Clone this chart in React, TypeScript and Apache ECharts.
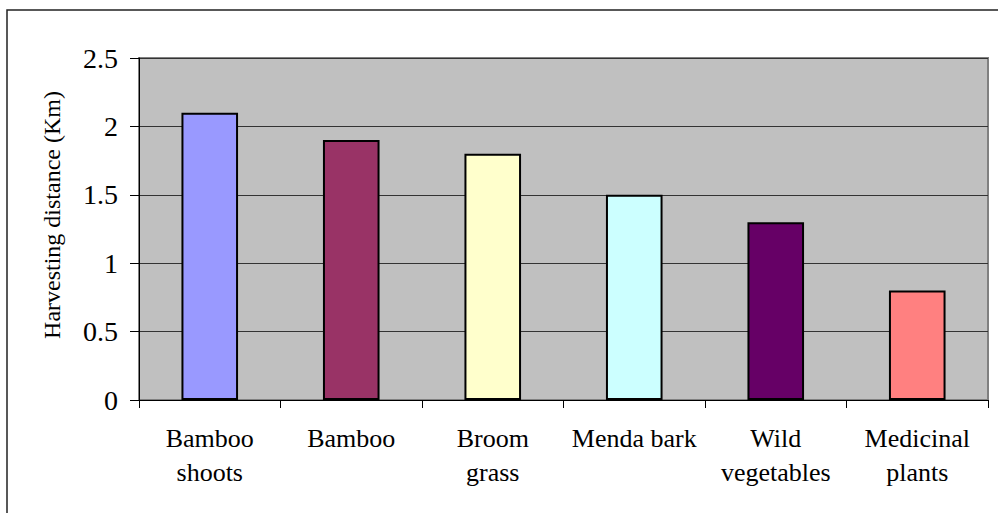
import React, { useEffect, useRef } from "react";
import * as echarts from "echarts";

const categories = [
  "Bamboo\nshoots",
  "Bamboo",
  "Broom\ngrass",
  "Menda bark",
  "Wild\nvegetables",
  "Medicinal\nplants",
];
const distances = [2.1, 1.9, 1.8, 1.5, 1.3, 0.8];
const barColors = ["#9999FF", "#993366", "#FFFFCC", "#CCFFFF", "#660066", "#FF8080"];
const yTitle = "Harvesting distance (Km)";

const FONT = "Liberation Serif";

export default function App() {
  const ref = useRef<HTMLDivElement>(null);

  useEffect(() => {
    if (!ref.current) return;
    const chart = echarts.init(ref.current, null, { renderer: "svg" });
    chart.setOption({
      animation: false,
      backgroundColor: "#ffffff",
      textStyle: { fontFamily: FONT },
      graphic: [
        {
          type: "rect",
          shape: { x: 7, y: 10, width: 1100, height: 700 },
          style: { fill: "none", stroke: "#222", lineWidth: 1.5 },
          silent: true,
          z: 100,
        },
        {
          // vertical axis title, rotated to read bottom-to-top
          type: "text",
          x: 52,
          y: 215,
          rotation: Math.PI / 2,
          style: {
            text: yTitle,
            fill: "#000",
            font: `24px ${FONT}`,
            align: "center",
            verticalAlign: "middle",
          },
          silent: true,
        },
      ],
      grid: {
        left: 139,
        top: 58,
        right: 10,
        bottom: 113,
        show: true,
        backgroundColor: "#C0C0C0",
        borderColor: "#808080",
        borderWidth: 2,
      },
      xAxis: {
        type: "category",
        data: categories,
        axisLine: { lineStyle: { color: "#000", width: 1 } },
        axisTick: { show: true, length: 8, lineStyle: { color: "#000" } },
        axisLabel: {
          color: "#000",
          fontFamily: FONT,
          fontSize: 26,
          lineHeight: 34,
          margin: 21,
          interval: 0,
        },
      },
      yAxis: {
        type: "value",
        min: 0,
        max: 2.5,
        interval: 0.5,
        axisLine: { show: true, lineStyle: { color: "#000", width: 1 } },
        axisTick: { show: true, length: 9, lineStyle: { color: "#000" } },
        axisLabel: { color: "#000", fontFamily: FONT, fontSize: 28, margin: 21 },
        splitLine: { show: true, lineStyle: { color: "#333", width: 1 } },
      },
      series: [
        {
          type: "bar",
          data: distances.map((v, i) => ({
            value: v,
            itemStyle: { color: barColors[i] },
          })),
          barWidth: "40%",
          itemStyle: { borderColor: "#000", borderWidth: 2 },
        },
      ],
    });
    return () => chart.dispose();
  }, []);

  return (
    <div
      ref={ref}
      style={{ position: "fixed", left: 0, top: 0, width: 998, height: 513 }}
    />
  );
}
